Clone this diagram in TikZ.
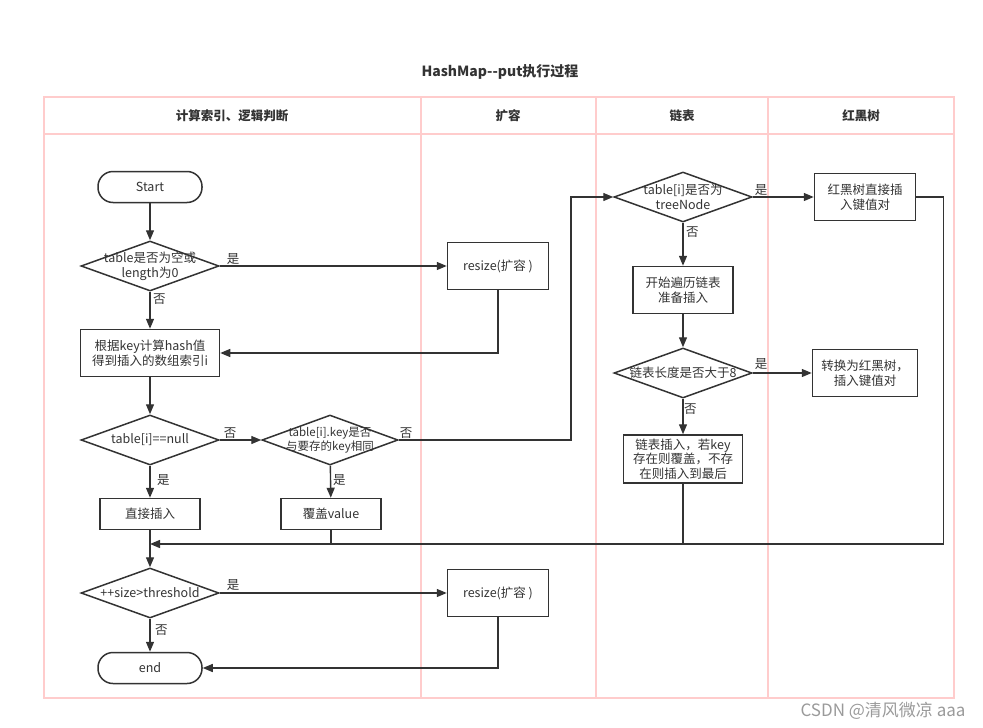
\documentclass[tikz,border=0pt]{standalone}
\usepackage{fontspec}
\setmainfont{Noto Sans CJK SC}
\usetikzlibrary{arrows.meta, positioning, shapes.geometric, calc}
\definecolor{inkgray}{HTML}{333333}
\definecolor{lanepink}{HTML}{FFCCCC}
\definecolor{markgray}{HTML}{9A9A9A}

\begin{document}
\begin{tikzpicture}[
    x=1pt, y=-1pt,
    color=inkgray,
    >={Triangle[length=10pt,width=8pt]},
    font=\fontsize{12.5}{15}\selectfont,
    flow/.style={line width=1.4pt},
    proc/.style={
      rectangle,
      draw,
      line width=1.5pt,
      minimum width=101pt,
      minimum height=47pt,
      inner sep=1pt,
      align=center
    },
    term/.style={
      rectangle,
      draw,
      line width=1.5pt,
      rounded corners=15pt,
      minimum width=104pt,
      minimum height=31pt
    },
    decision/.style={
      diamond,
      draw,
      line width=1.5pt,
      aspect=2.76,
      inner sep=0pt,
      minimum width=138pt,
      minimum height=50pt
    },
    dtext/.style={align=center, inner sep=0pt},
    lbl/.style={inner sep=1pt},
    lane/.style={draw=lanepink, line width=1.5pt},
    head/.style={font=\fontsize{12.5}{15}\selectfont\bfseries}
]
\useasboundingbox (0,0) rectangle (983,728);

% Judul dan kolom
\node[font=\fontsize{14}{16}\selectfont\bfseries] (title) at (500,72) {HashMap-{}-put执行过程};
\draw[lane] (44,97) rectangle (954,698);
\draw[lane] (44,134) -- (954,134);
\draw[lane] (421,97) -- (421,698);
\draw[lane] (596,97) -- (596,698);
\draw[lane] (768,97) -- (768,698);
\node[head] (h1) at (232,116) {计算索引、逻辑判断};
\node[head] (h2) at (508,116) {扩容};
\node[head] (h3) at (682,116) {链表};
\node[head] (h4) at (861,116) {红黑树};

% Kolom 1: indeks dan logika
\node[term] (start) at (150,187) {Start};
\node[decision] (d1) at (150,266) {};
\node[dtext] (d1t) at (d1) {table是否为空或\\length为0};
\node[proc, minimum width=139pt] (p1) at (150,353) {根据key计算hash值\\得到插入的数组索引i};
\node[decision] (d2) at (150,440) {};
\node[dtext] (d2t) at (d2) {table[i]==null};
\node[decision, minimum width=136pt] (d3) at (330,440) {};
\node[dtext, font=\fontsize{11.5}{14}\selectfont] (d3t) at (d3) {table[i].key是否\\与要存的key相同};
\node[proc, minimum width=100pt, minimum height=31pt] (p2) at (150,514) {直接插入};
\node[proc, minimum width=100pt, minimum height=31pt] (p3) at (331,514) {覆盖value};
\node[decision] (d4) at (150,593) {};
\node[dtext] (d4t) at (d4) {++size>threshold};
\node[term] (end) at (150,668) {end};

% Kolom 2: resize
\node[proc] (r1) at (498,266) {resize(扩容 )};
\node[proc] (r2) at (498,593) {resize(扩容 )};

% Kolom 3: linked list
\node[decision] (d5) at (683,197) {};
\node[dtext] (d5t) at (d5) {table[i]是否为\\treeNode};
\node[proc, minimum width=100pt] (l1) at (683,290) {开始遍历链表\\准备插入};
\node[decision] (d6) at (683,373) {};
\node[dtext] (d6t) at (d6) {链表长度是否大于8};
\node[proc, minimum width=119pt, minimum height=48pt, font=\fontsize{12.5}{14.5}\selectfont] (l2) at (683,459) {链表插入，若key\\存在则覆盖，不存\\在则插入到最后};

% Kolom 4: red-black tree
\node[proc] (t1) at (865,197) {红黑树直接插\\入键值对};
\node[proc, minimum width=105pt] (t2) at (865,373) {转换为红黑树，\\插入键值对};

% Titik bantu
\coordinate (bend) at (571,440);
\coordinate (merge) at (150,544);

% Panah alur
\draw[flow, ->] (start) -- (d1);
\draw[flow, ->] (d1) -- (r1);
\draw[flow, ->] (d1) -- (p1);
\draw[flow, ->] (r1.south) |- (p1.east);
\draw[flow, ->] (p1) -- (d2);
\draw[flow, ->] (d2) -- (d3);
\draw[flow, ->] (d2) -- (p2);
\draw[flow, ->] (d3) -- (p3);
\draw[flow, ->] (d3.east) -- (bend) |- (d5.west);
\draw[flow, ->] (d5) -- (t1);
\draw[flow, ->] (d5) -- (l1);
\draw[flow, ->] (l1) -- (d6);
\draw[flow, ->] (d6) -- (t2);
\draw[flow, ->] (d6) -- (l2);
\draw[flow, ->] (t1.east) -- ++(27,0) |- (merge);
\draw[flow] (l2.south) -- (l2.south |- merge);
\draw[flow] (p3.south) -- (p3.south |- merge);
\draw[flow, ->] (p2) -- (d4);
\draw[flow, ->] (d4) -- (r2);
\draw[flow, ->] (d4) -- (end);
\draw[flow, ->] (r2.south) |- (end.east);

% Label ya / tidak
\node[lbl, above right=0pt and 6pt of d1.east] (y1) {是};
\node[lbl, below right=1pt and 2pt of d1.south] (n1) {否};
\node[lbl, above right=0pt and 3pt of d2.east] (n2) {否};
\node[lbl, below right=8pt and 6pt of d2.south] (y2) {是};
\node[lbl, above right=0pt and 0pt of d3.east] (n3) {否};
\node[lbl, below right=8pt and 2pt of d3.south] (y3) {是};
\node[lbl, above right=1pt and 6pt of d4.east] (y4) {是};
\node[lbl, below right=5pt and 4pt of d4.south] (n4) {否};
\node[lbl, above right=0pt and 1pt of d5.east] (y5) {是};
\node[lbl, below right=3pt and 2pt of d5.south] (n5) {否};
\node[lbl, above right=2pt and 1pt of d6.east] (y6) {是};
\node[lbl, below right=4pt and 0pt of d6.south] (n6) {否};

\node[anchor=east, text=markgray, font=\fontsize{17}{19}\selectfont] (mark) at (969,711) {CSDN @清风微凉 aaa};

\end{tikzpicture}
\end{document}
